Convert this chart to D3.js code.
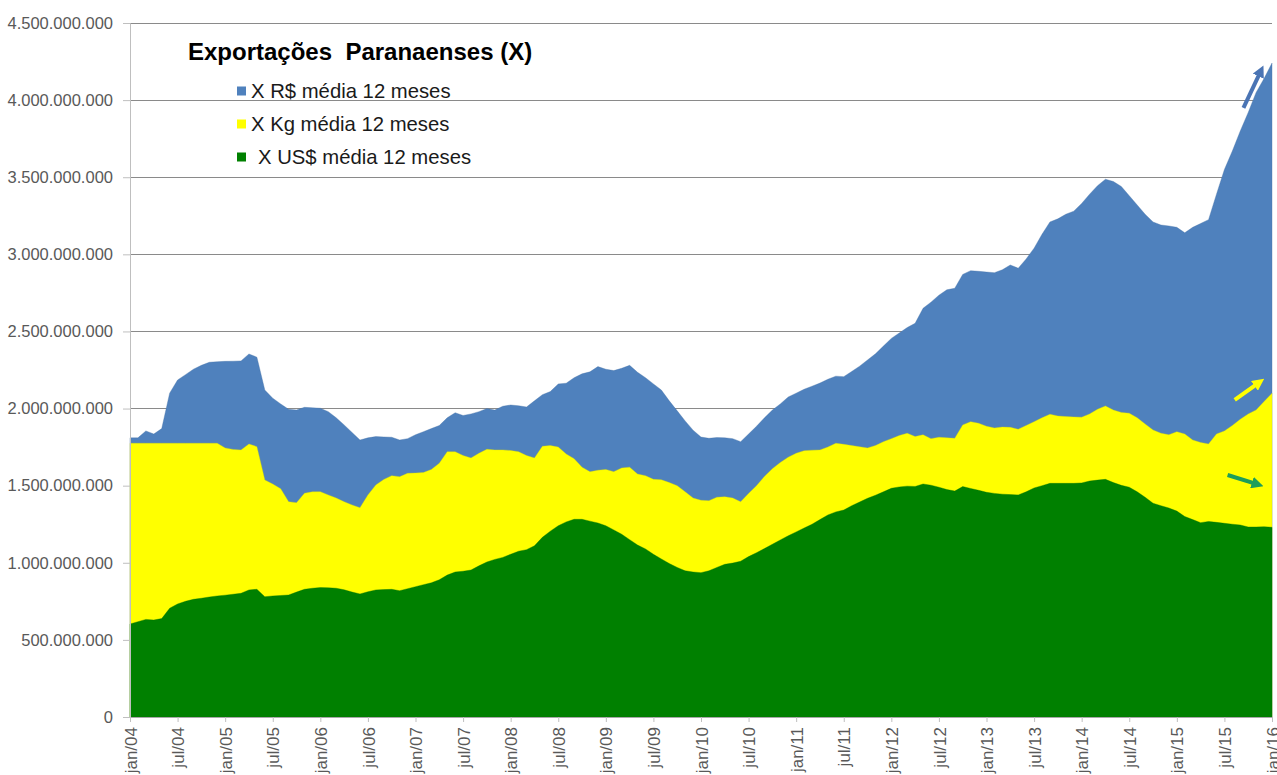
<!DOCTYPE html>
<html>
<head>
<meta charset="utf-8">
<script src="https://cdn.jsdelivr.net/npm/d3@7/dist/d3.min.js"></script>
<style>
  html, body { margin: 0; padding: 0; background: #ffffff; }
  svg { display: block; font-family: "Liberation Sans", Arial, sans-serif; }
</style>
</head>
<body>
<svg id="chart" width="1277" height="775"></svg>
<script>
// ---------------- DATA (values in billions, monthly jan/04 .. jan/16) ----------------
const xTickLabels = ["jan/04","jul/04","jan/05","jul/05","jan/06","jul/06","jan/07","jul/07","jan/08","jul/08",
  "jan/09","jul/09","jan/10","jul/10","jan/11","jul/11","jan/12","jul/12","jan/13","jul/13","jan/14","jul/14",
  "jan/15","jul/15","jan/16"];
const yTicks = [0, 500000000, 1000000000, 1500000000, 2000000000, 2500000000, 3000000000, 3500000000, 4000000000, 4500000000];

const seriesNames = ["X R$ média 12 meses", "X Kg média 12 meses", "X US$ média 12 meses"];

const xReais = [
  1.81,1.81,1.855,1.835,1.87,2.10,2.185,2.22,2.255,2.28,2.30,2.304,
  2.306,2.307,2.309,2.354,2.333,2.12,2.067,2.03,1.995,1.991,2.008,2.005,
  2.002,1.98,1.94,1.894,1.845,1.796,1.81,1.818,1.816,1.814,1.796,1.805,
  1.83,1.85,1.87,1.89,1.94,1.973,1.955,1.965,1.98,2.0,1.99,2.015,
  2.023,2.018,2.01,2.05,2.09,2.11,2.16,2.164,2.2,2.225,2.238,2.272,
  2.255,2.246,2.261,2.28,2.235,2.2,2.16,2.12,2.05,1.985,1.92,1.86,
  1.815,1.807,1.812,1.81,1.805,1.785,1.835,1.885,1.94,1.99,2.03,2.075,
  2.1,2.125,2.145,2.165,2.19,2.21,2.207,2.24,2.275,2.315,2.355,2.405,
  2.455,2.49,2.525,2.553,2.65,2.69,2.735,2.77,2.78,2.87,2.894,2.89,
  2.885,2.881,2.9,2.931,2.91,2.97,3.04,3.13,3.21,3.23,3.26,3.28,
  3.33,3.39,3.445,3.487,3.472,3.44,3.38,3.32,3.26,3.21,3.19,3.184,
  3.175,3.14,3.175,3.2,3.225,3.39,3.55,3.67,3.8,3.92,4.05,4.14,
  4.24
];

const xKg = [
  1.775,1.775,1.775,1.775,1.775,1.775,1.775,1.775,1.775,1.775,1.775,1.775,
  1.745,1.735,1.731,1.77,1.753,1.537,1.51,1.48,1.396,1.39,1.451,1.46,
  1.461,1.44,1.42,1.396,1.375,1.357,1.44,1.505,1.54,1.565,1.558,1.58,
  1.582,1.585,1.605,1.645,1.72,1.72,1.695,1.68,1.71,1.736,1.732,1.732,
  1.728,1.72,1.695,1.68,1.755,1.76,1.75,1.705,1.675,1.62,1.59,1.6,
  1.605,1.591,1.615,1.62,1.575,1.565,1.541,1.538,1.52,1.5,1.46,1.42,
  1.405,1.403,1.425,1.428,1.42,1.395,1.45,1.5,1.56,1.61,1.65,1.685,
  1.71,1.727,1.73,1.732,1.75,1.775,1.768,1.76,1.752,1.745,1.76,1.785,
  1.805,1.825,1.84,1.818,1.83,1.805,1.814,1.81,1.807,1.894,1.915,1.905,
  1.885,1.874,1.88,1.878,1.866,1.89,1.915,1.94,1.963,1.952,1.948,1.946,
  1.944,1.965,1.995,2.017,1.99,1.975,1.97,1.94,1.9,1.861,1.84,1.83,
  1.85,1.835,1.796,1.78,1.77,1.835,1.855,1.89,1.93,1.965,1.991,2.045,
  2.099
];

const xDolares = [
  0.603,0.618,0.633,0.629,0.638,0.705,0.733,0.75,0.763,0.77,0.778,0.785,
  0.79,0.796,0.802,0.824,0.828,0.78,0.785,0.788,0.791,0.81,0.828,0.835,
  0.839,0.838,0.835,0.825,0.81,0.798,0.812,0.824,0.826,0.828,0.819,0.832,
  0.845,0.858,0.87,0.89,0.92,0.94,0.945,0.953,0.98,1.005,1.022,1.035,
  1.055,1.075,1.085,1.11,1.165,1.205,1.24,1.265,1.282,1.282,1.27,1.258,
  1.24,1.213,1.185,1.15,1.115,1.09,1.055,1.025,0.995,0.97,0.948,0.94,
  0.936,0.948,0.97,0.99,0.998,1.01,1.04,1.065,1.092,1.12,1.148,1.175,
  1.2,1.225,1.25,1.28,1.31,1.33,1.342,1.37,1.394,1.418,1.438,1.46,
  1.483,1.492,1.497,1.495,1.511,1.503,1.49,1.475,1.465,1.494,1.482,1.47,
  1.457,1.45,1.445,1.442,1.44,1.46,1.485,1.5,1.515,1.515,1.515,1.515,
  1.518,1.53,1.536,1.541,1.52,1.502,1.49,1.46,1.425,1.386,1.37,1.355,
  1.335,1.3,1.28,1.26,1.268,1.262,1.256,1.25,1.245,1.232,1.232,1.234,
  1.23
];

// trend arrows (month index, value in billions) drawn at the right edge
const arrowStarts = [[140.4, 3.95], [139.3, 2.056], [138.4, 1.569]];
const arrowEnds   = [[142.6, 4.19], [142.4, 2.17], [142.2, 1.508]];

const seriesColors = ["#4f81bd", "#ffff00", "#008000"];
const arrowColors = ["#4a74b4", "#ffff00", "#1e9e5a"];

// ---------------- CHART ----------------
const svg = d3.select("#chart");
const margin = {left: 130, right: 5, top: 23, bottom: 58};
const W = 1277, H = 775;
const nMonths = xReais.length;

const x = d3.scaleLinear().domain([0, nMonths - 1]).range([margin.left, W - margin.right]);
const y = d3.scaleLinear().domain([0, 4500000000]).range([H - margin.bottom, margin.top]);

const loc = d3.formatLocale({decimal: ",", thousands: ".", grouping: [3], currency: ["R$", ""]});
const fmt = loc.format(",d");

// gridlines
svg.append("g").selectAll("line").data(yTicks.filter(d => d > 0)).join("line")
  .attr("x1", x(0)).attr("x2", x(nMonths - 1))
  .attr("y1", d => y(d)).attr("y2", d => y(d))
  .attr("stroke", "#8a8a8a").attr("stroke-width", 1).attr("shape-rendering", "crispEdges");

// areas (overlapping, each from zero)
const allSeries = [xReais, xKg, xDolares];
const area = d3.area().x((d, i) => x(i)).y0(y(0)).y1(d => y(d * 1e9)).curve(d3.curveLinear);
allSeries.forEach((s, k) => {
  svg.append("path").datum(s).attr("d", area).attr("fill", seriesColors[k])
    .attr("stroke", d3.color(seriesColors[k]).darker(0.4)).attr("stroke-width", 0.6).attr("stroke-opacity", 0.6);
});

// y axis
const yAxis = d3.axisLeft(y).tickValues(yTicks).tickFormat(fmt).tickSize(7).tickPadding(10);
const gy = svg.append("g").attr("transform", `translate(${margin.left},0)`).call(yAxis);
gy.select(".domain").attr("stroke", "#bfbfbf");
gy.selectAll(".tick line").attr("stroke", "#bfbfbf");
gy.selectAll(".tick text").attr("fill", "#595959").style("font-size", "16.5px")
  .style("font-family", "'Liberation Sans', Arial, sans-serif");

// x axis
const xTickIdx = xTickLabels.map((d, i) => i * 6);
const xAxis = d3.axisBottom(x).tickValues(xTickIdx).tickFormat((d, i) => xTickLabels[i]).tickSize(5).tickSizeOuter(0);
const gx = svg.append("g").attr("transform", `translate(0,${y(0)})`).call(xAxis);
gx.select(".domain").attr("stroke", "#a8a8a8");
gx.selectAll(".tick line").attr("stroke", "#bfbfbf");
gx.selectAll(".tick text")
  .attr("fill", "#595959").style("font-size", "17px").style("font-family", "'Liberation Sans', Arial, sans-serif")
  .attr("text-anchor", "end").attr("transform", "rotate(-90)")
  .attr("x", -10).attr("y", 0).attr("dy", "0.36em");

// arrows
const defs = svg.append("defs");
arrowColors.forEach((c, k) => {
  defs.append("marker").attr("id", "ah" + k).attr("viewBox", "0 0 10 10")
    .attr("refX", 5).attr("refY", 5).attr("markerWidth", 3).attr("markerHeight", 3)
    .attr("orient", "auto").attr("markerUnits", "strokeWidth")
    .append("path").attr("d", "M0,0 L10,5 L0,10 Z").attr("fill", c);
});
arrowStarts.forEach((s, k) => {
  const e = arrowEnds[k];
  svg.append("line")
    .attr("x1", x(s[0])).attr("y1", y(s[1] * 1e9))
    .attr("x2", x(e[0])).attr("y2", y(e[1] * 1e9))
    .attr("stroke", arrowColors[k]).attr("stroke-width", 4)
    .attr("marker-end", `url(#ah${k})`);
});

// title
svg.append("text").attr("x", 188).attr("y", 60)
  .style("font-size", "24px").style("font-weight", "bold").style("white-space", "pre")
  .attr("fill", "#000").text("Exportações  Paranaenses (X)");

// legend
const legY = [91, 124, 157];
const legTextX = [251, 251, 258];
seriesNames.forEach((n, k) => {
  svg.append("rect").attr("x", 237).attr("y", legY[k] - 4.5).attr("width", 9).attr("height", 9)
    .attr("fill", seriesColors[k]);
  svg.append("text").attr("x", legTextX[k]).attr("y", legY[k] + 7)
    .style("font-size", "20.3px").attr("fill", "#1a1a1a").text(n);
});
</script>
</body>
</html>
